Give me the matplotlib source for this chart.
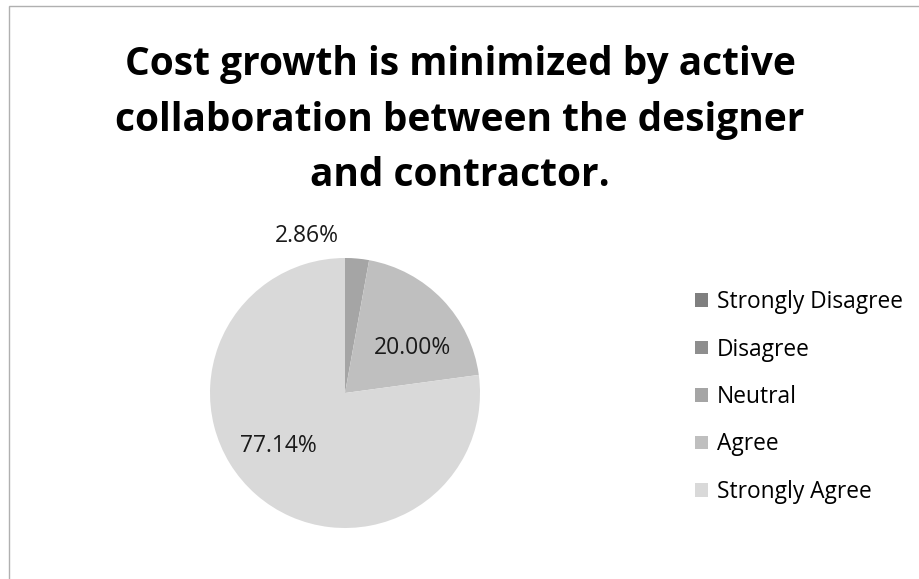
import matplotlib
matplotlib.use("Agg")
import matplotlib.pyplot as plt
from matplotlib.patches import Rectangle, Patch

categories = ["Strongly Disagree", "Disagree", "Neutral", "Agree", "Strongly Agree"]
shares = [0.0, 0.0, 2.86, 20.00, 77.14]
colors = ["#7f7f7f", "#8e8e8e", "#a5a5a5", "#bfbfbf", "#d9d9d9"]
title_lines = ["Cost growth is minimized by active",
               "collaboration between the designer",
               "and contractor."]

plt.rcParams["font.family"] = ["Open Sans", "DejaVu Sans"]

W, H = 920, 579
fig = plt.figure(figsize=(W / 100, H / 100), dpi=100)
fig.patch.set_facecolor("white")

# chart frame (runs off the right and bottom edges)
fig.add_artist(Rectangle((8.5 / W, -0.1), 2.0, 1.1 - 6.5 / H, transform=fig.transFigure,
                         fill=False, edgecolor="#b0b0b0", linewidth=1.0))

for k, line in enumerate(title_lines):
    fig.text(460 / W, 1 - (65 + 55 * k) / H, line, ha="center", va="center",
             fontsize=28, fontweight="bold", color="black")

cx, cy, r = 345, 393, 135
ax = fig.add_axes([(cx - r) / W, (H - cy - r) / H, 2 * r / W, 2 * r / H])
wedges, _ = ax.pie(shares, colors=colors, startangle=90, counterclock=False,
                   radius=1.0, wedgeprops=dict(linewidth=0))
ax.set_xlim(-1, 1)
ax.set_ylim(-1, 1)
ax.set_axis_off()

# value labels, positioned in pie-radius units
label_pos = {2: (-0.28, 1.16), 3: (0.50, 0.33), 4: (-0.49, -0.39)}
for i, (x, y) in label_pos.items():
    ax.text(x, y, f"{shares[i]:.2f}%", ha="center", va="center", fontsize=16.5, color="#1a1a1a")

handles = [Patch(facecolor=c, edgecolor="none") for c in colors]
leg = fig.legend(handles, categories, loc="upper left",
                 bbox_to_anchor=(686 / W, 1 - 281 / H), frameon=False,
                 fontsize=16.4, handlelength=0.55, handleheight=0.55,
                 handletextpad=0.42, labelspacing=1.03, borderaxespad=0)

fig.savefig("out.png", dpi=100)
